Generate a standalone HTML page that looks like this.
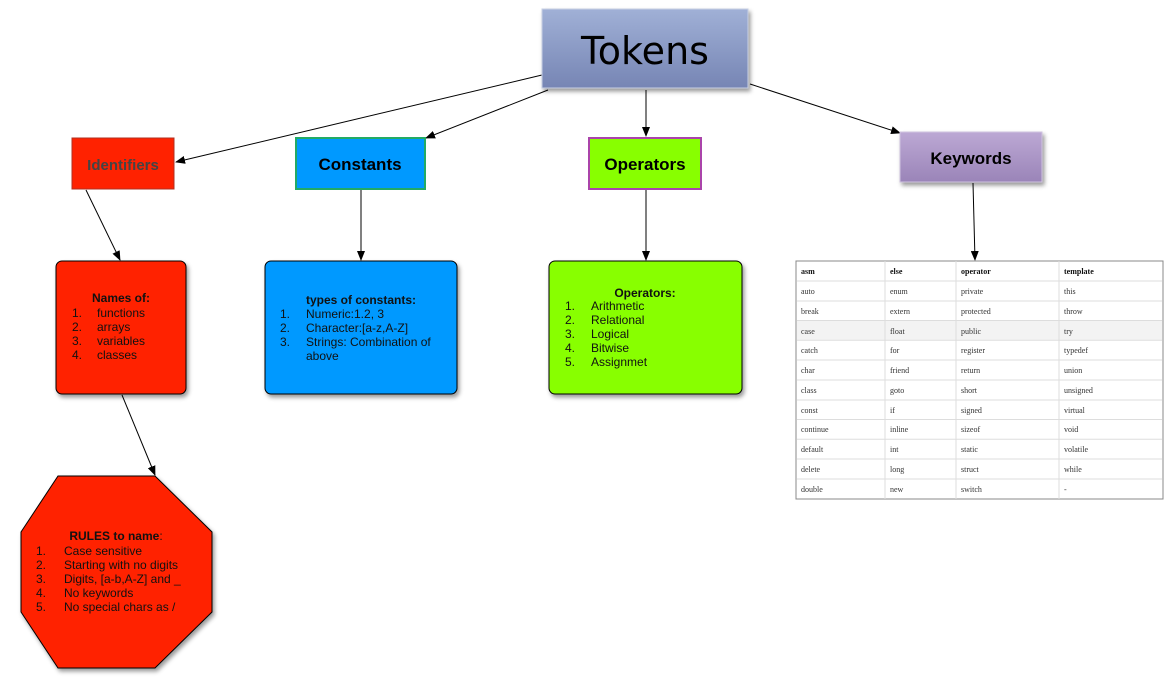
<!DOCTYPE html>
<html><head><meta charset="utf-8"><style>
body{margin:0;background:#fff;width:1175px;height:691px;overflow:hidden}
svg{font-family:"Liberation Sans",sans-serif}
.s{font-family:"Liberation Serif",serif;font-size:8px;fill:#333}
.h{font-weight:bold;fill:#111}
.t{font-size:12px;fill:#111}
</style></head><body>
<svg width="1175" height="691" viewBox="0 0 1175 691" xmlns="http://www.w3.org/2000/svg">
<defs>
<linearGradient id="g1" x1="0" y1="0" x2="0" y2="1"><stop offset="0" stop-color="#a0b0d6"/><stop offset="1" stop-color="#7685b4"/></linearGradient>
<linearGradient id="g2" x1="0" y1="0" x2="0" y2="1"><stop offset="0" stop-color="#bca8d4"/><stop offset="1" stop-color="#9a84b8"/></linearGradient>
<marker id="a" markerWidth="10" markerHeight="8" refX="9" refY="4" orient="auto" markerUnits="userSpaceOnUse"><path d="M0,0 L10,4 L0,8z" fill="#000"/></marker>
<filter id="sh" x="-10%" y="-10%" width="130%" height="130%"><feDropShadow dx="2" dy="3" stdDeviation="2" flood-opacity="0.4"/></filter>
</defs>
<g stroke="#000" stroke-width="1" marker-end="url(#a)">
<line x1="542" y1="75" x2="176" y2="162"/>
<line x1="548" y1="90" x2="426" y2="138"/>
<line x1="646" y1="90" x2="646" y2="136"/>
<line x1="750" y1="84" x2="900" y2="133"/>
<line x1="86" y1="190" x2="120" y2="260"/>
<line x1="361" y1="190" x2="361" y2="260"/>
<line x1="646" y1="190" x2="646" y2="260"/>
<line x1="973" y1="183" x2="975" y2="260"/>
<line x1="122" y1="395" x2="155" y2="475"/>
</g>
<rect x="542" y="9" width="206" height="79" fill="url(#g1)" stroke="#c8d0e4" filter="url(#sh)"/>
<text x="645" y="64" font-size="38" text-anchor="middle" fill="#000" style="font-family:'DejaVu Sans',sans-serif">Tokens</text>
<rect x="72" y="138" width="102" height="51" fill="#ff2200" stroke="#b03020"/>
<text x="123" y="170" font-size="15" font-weight="bold" text-anchor="middle" fill="#444">Identifiers</text>
<rect x="296" y="138" width="129" height="51" fill="#0099ff" stroke="#22aa66" stroke-width="2"/>
<text x="360" y="170" font-size="17" font-weight="bold" text-anchor="middle" fill="#000">Constants</text>
<rect x="589" y="138" width="112" height="51" fill="#88ff00" stroke="#aa44aa" stroke-width="2"/>
<text x="645" y="170" font-size="17" font-weight="bold" text-anchor="middle" fill="#000">Operators</text>
<rect x="900" y="132" width="142" height="50" fill="url(#g2)" stroke="#d0c4e0" filter="url(#sh)"/>
<text x="971" y="164" font-size="17" font-weight="bold" text-anchor="middle" fill="#000">Keywords</text>

<rect x="56" y="261" width="130" height="133" rx="6" fill="#ff2200" stroke="#000" filter="url(#sh)"/>
<text x="121" y="302" class="t" font-weight="bold" text-anchor="middle">Names of:</text>
<g class="t"><text x="72" y="317">1.</text><text x="97" y="317">functions</text>
<text x="72" y="331">2.</text><text x="97" y="331">arrays</text>
<text x="72" y="345">3.</text><text x="97" y="345">variables</text>
<text x="72" y="359">4.</text><text x="97" y="359">classes</text></g>

<rect x="265" y="261" width="192" height="133" rx="6" fill="#0099ff" stroke="#000" filter="url(#sh)"/>
<text x="306" y="304" class="t" font-weight="bold">types of constants:</text>
<g class="t"><text x="280" y="318">1.</text><text x="306" y="318">Numeric:1.2, 3</text>
<text x="280" y="332">2.</text><text x="306" y="332">Character:[a-z,A-Z]</text>
<text x="280" y="346">3.</text><text x="306" y="346">Strings: Combination of</text>
<text x="306" y="360">above</text></g>

<rect x="549" y="261" width="193" height="133" rx="6" fill="#88ff00" stroke="#000" filter="url(#sh)"/>
<text x="645" y="297" class="t" font-weight="bold" text-anchor="middle">Operators:</text>
<g class="t"><text x="565" y="310">1.</text><text x="591" y="310">Arithmetic</text>
<text x="565" y="324">2.</text><text x="591" y="324">Relational</text>
<text x="565" y="338">3.</text><text x="591" y="338">Logical</text>
<text x="565" y="352">4.</text><text x="591" y="352">Bitwise</text>
<text x="565" y="366">5.</text><text x="591" y="366">Assignmet</text></g>

<polygon points="58,476 155,476 212,532 212,612 155,668 58,668 21,612 21,532" fill="#ff2200" stroke="#000" filter="url(#sh)"/>
<text x="116" y="540" class="t" font-weight="bold" text-anchor="middle">RULES to name<tspan font-weight="normal">:</tspan></text>
<g class="t"><text x="36" y="555">1.</text><text x="64" y="555">Case sensitive</text>
<text x="36" y="569">2.</text><text x="64" y="569">Starting with no digits</text>
<text x="36" y="583">3.</text><text x="64" y="583">Digits, [a-b,A-Z] and _</text>
<text x="36" y="597">4.</text><text x="64" y="597">No keywords</text>
<text x="36" y="611">5.</text><text x="64" y="611">No special chars as /</text></g>

<g>
<rect x="796" y="261" width="367" height="238" fill="#fff" stroke="#888"/>
<rect x="797" y="320.5" width="365" height="19.8" fill="#f3f3f3"/>
<g stroke="#ddd">
<line x1="797" y1="281" x2="1162" y2="281"/><line x1="797" y1="301" x2="1162" y2="301"/><line x1="797" y1="320.5" x2="1162" y2="320.5"/><line x1="797" y1="340.3" x2="1162" y2="340.3"/><line x1="797" y1="360" x2="1162" y2="360"/><line x1="797" y1="380" x2="1162" y2="380"/><line x1="797" y1="400" x2="1162" y2="400"/><line x1="797" y1="419.5" x2="1162" y2="419.5"/><line x1="797" y1="439.3" x2="1162" y2="439.3"/><line x1="797" y1="459" x2="1162" y2="459"/><line x1="797" y1="479" x2="1162" y2="479"/>
<line x1="885" y1="261" x2="885" y2="499"/><line x1="956" y1="261" x2="956" y2="499"/><line x1="1059" y1="261" x2="1059" y2="499"/>
</g>
<g class="s">
<text class="s h" x="801" y="274">asm</text><text class="s h" x="890" y="274">else</text><text class="s h" x="961" y="274">operator</text><text class="s h" x="1064" y="274">template</text>
<text x="801" y="294">auto</text><text x="890" y="294">enum</text><text x="961" y="294">private</text><text x="1064" y="294">this</text>
<text x="801" y="314">break</text><text x="890" y="314">extern</text><text x="961" y="314">protected</text><text x="1064" y="314">throw</text>
<text x="801" y="334">case</text><text x="890" y="334">float</text><text x="961" y="334">public</text><text x="1064" y="334">try</text>
<text x="801" y="353">catch</text><text x="890" y="353">for</text><text x="961" y="353">register</text><text x="1064" y="353">typedef</text>
<text x="801" y="373">char</text><text x="890" y="373">friend</text><text x="961" y="373">return</text><text x="1064" y="373">union</text>
<text x="801" y="393">class</text><text x="890" y="393">goto</text><text x="961" y="393">short</text><text x="1064" y="393">unsigned</text>
<text x="801" y="413">const</text><text x="890" y="413">if</text><text x="961" y="413">signed</text><text x="1064" y="413">virtual</text>
<text x="801" y="432">continue</text><text x="890" y="432">inline</text><text x="961" y="432">sizeof</text><text x="1064" y="432">void</text>
<text x="801" y="452">default</text><text x="890" y="452">int</text><text x="961" y="452">static</text><text x="1064" y="452">volatile</text>
<text x="801" y="472">delete</text><text x="890" y="472">long</text><text x="961" y="472">struct</text><text x="1064" y="472">while</text>
<text x="801" y="492">double</text><text x="890" y="492">new</text><text x="961" y="492">switch</text><text x="1064" y="492">-</text>
</g>
</g>
</svg>
</body></html>
